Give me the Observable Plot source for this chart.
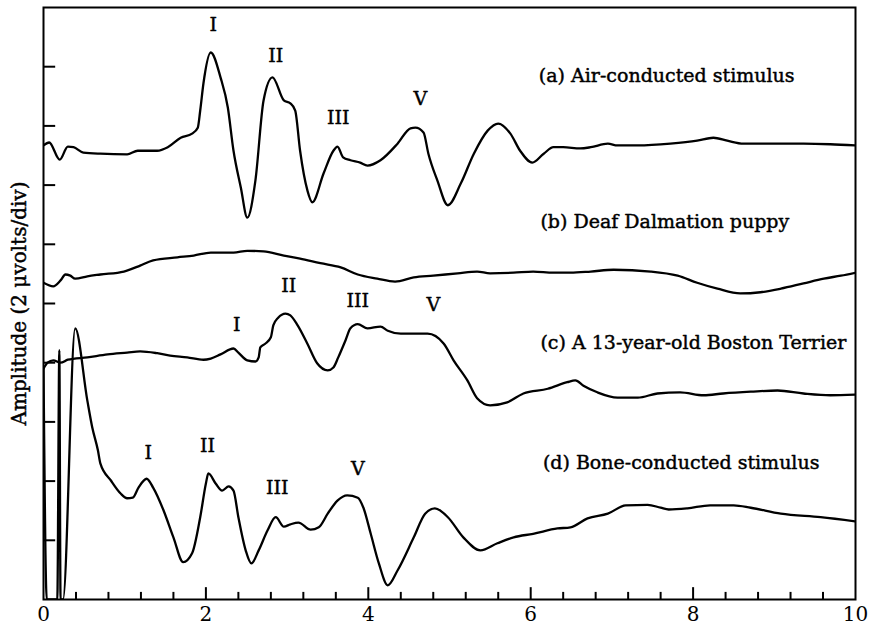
<!DOCTYPE html>
<html><head><meta charset="utf-8">
<script src="https://cdn.jsdelivr.net/npm/d3@7"></script>
<script src="https://cdn.jsdelivr.net/npm/@observablehq/plot@0.6"></script>
<style>body{margin:0;background:#fff}</style>
</head><body><div id="chart"></div>
<script>
// time in ms, amplitude in divisions (2 µV/div) measured from the bottom of the frame
const airT = [0.00,0.07,0.20,0.30,0.37,0.49,0.70,1.03,1.16,1.40,1.53,1.69,1.83,1.90,1.93,1.97,2.06,2.18,2.27,2.34,2.43,2.51,2.61,2.71,2.82,2.96,3.04,3.10,3.16,3.25,3.31,3.45,3.57,3.62,3.69,3.78,3.90,3.99,4.15,4.36,4.52,4.58,4.68,4.74,4.85,4.98,5.14,5.30,5.47,5.60,5.75,5.87,6.02,6.16,6.28,6.40,6.61,6.74,6.95,7.07,7.32,7.72,8.05,8.25,8.42,8.62,8.95,9.36,9.69,10.0];
const airV = [7.67,7.72,7.43,7.65,7.64,7.55,7.53,7.52,7.58,7.58,7.64,7.80,7.87,7.97,8.26,8.72,9.24,8.82,8.31,7.58,6.96,6.45,7.08,8.43,8.82,8.43,8.38,8.26,7.58,6.91,6.71,7.20,7.58,7.65,7.47,7.42,7.38,7.33,7.42,7.70,7.96,7.97,7.89,7.53,7.08,6.66,7.03,7.53,7.92,8.04,7.87,7.58,7.38,7.53,7.64,7.64,7.62,7.64,7.70,7.67,7.67,7.70,7.75,7.80,7.75,7.70,7.70,7.70,7.69,7.67];

const dalT = [0.00,0.12,0.21,0.27,0.33,0.39,0.54,0.70,0.99,1.19,1.35,1.65,1.85,2.06,2.34,2.51,2.71,2.96,3.16,3.41,3.66,3.87,4.11,4.33,4.56,4.80,5.10,5.34,5.50,5.79,6.03,6.28,6.49,6.74,7.02,7.48,7.81,8.05,8.30,8.58,8.83,9.08,9.36,9.61,9.82,10.0];
const dalV = [5.35,5.29,5.39,5.49,5.47,5.42,5.46,5.49,5.54,5.64,5.73,5.78,5.81,5.86,5.86,5.89,5.88,5.81,5.76,5.68,5.61,5.49,5.42,5.37,5.44,5.47,5.51,5.54,5.51,5.52,5.54,5.52,5.52,5.54,5.57,5.54,5.47,5.35,5.25,5.17,5.19,5.25,5.34,5.42,5.47,5.52];

const terT = [0.00,0.05,0.12,0.21,0.30,0.54,0.79,1.03,1.19,1.40,1.56,1.77,1.97,2.06,2.18,2.34,2.40,2.51,2.61,2.65,2.67,2.73,2.80,2.83,2.89,2.98,3.04,3.13,3.25,3.37,3.50,3.57,3.63,3.72,3.78,3.87,3.99,4.15,4.24,4.40,4.56,4.73,4.93,5.05,5.22,5.34,5.50,5.71,5.91,6.21,6.45,6.55,6.65,6.82,7.07,7.32,7.56,7.84,8.13,8.37,8.71,9.04,9.36,9.69,10.0];
const terV = [3.90,4.00,4.04,4.00,4.05,4.09,4.14,4.17,4.19,4.16,4.12,4.09,4.05,4.07,4.14,4.24,4.17,4.04,4.02,4.09,4.26,4.32,4.43,4.63,4.76,4.83,4.80,4.63,4.32,3.99,3.87,3.92,4.09,4.38,4.58,4.65,4.58,4.61,4.54,4.49,4.49,4.49,4.32,4.04,3.70,3.40,3.28,3.33,3.48,3.56,3.67,3.70,3.61,3.50,3.41,3.41,3.48,3.50,3.45,3.48,3.51,3.53,3.48,3.45,3.46];

const boneT = [0.00,0.04,0.17,0.195,0.21,0.24,0.39,0.54,0.60,0.67,0.70,0.83,0.95,1.03,1.10,1.17,1.27,1.35,1.48,1.60,1.72,1.83,1.93,2.00,2.03,2.12,2.20,2.28,2.34,2.40,2.49,2.56,2.65,2.76,2.86,2.96,3.04,3.14,3.29,3.39,3.50,3.62,3.74,3.87,3.94,4.03,4.13,4.24,4.36,4.56,4.70,4.82,4.98,5.17,5.38,5.59,5.79,6.03,6.33,6.49,6.70,6.95,7.17,7.44,7.60,7.70,7.93,8.21,8.50,8.71,9.08,9.57,10.0];
const boneV = [3.90,0,0,4.21,0,0,4.58,3.36,2.91,2.52,2.30,2.01,1.79,1.71,1.72,1.89,2.04,1.89,1.50,1.05,0.63,0.78,1.39,1.96,2.13,1.96,1.84,1.91,1.84,1.39,0.83,0.61,0.83,1.17,1.39,1.23,1.27,1.30,1.18,1.22,1.45,1.67,1.76,1.72,1.55,1.11,0.61,0.24,0.49,1.05,1.45,1.54,1.39,1.05,0.83,0.95,1.05,1.11,1.20,1.22,1.37,1.45,1.59,1.60,1.55,1.52,1.54,1.59,1.59,1.55,1.45,1.39,1.32];

const xMajor = [0, 2, 4, 6, 8, 10];
const xMinor = [0.4,0.8,1.2,1.6,2.4,2.8,3.2,3.6,4.4,4.8,5.2,5.6,6.4,6.8,7.2,7.6,8.4,8.8,9.2,9.6];
const yTicks = [1, 2, 3, 4, 5, 6, 7, 8, 9];

const curveLabels = ["(a) Air-conducted stimulus", "(b) Deaf Dalmation puppy", "(c) A 13-year-old Boston Terrier", "(d) Bone-conducted stimulus"];
const curveLabelX = [6.10, 6.12, 6.12, 6.15];
const curveLabelY = [8.85, 6.37, 4.34, 2.30];

const waveNames = ["I","II","III","V", "I","II","III","V", "I","II","III","V"];
const waveX = [2.09, 2.86, 3.63, 4.64, 2.38, 3.02, 3.87, 4.80, 1.29, 2.02, 2.88, 3.87];
const waveY = [9.70, 9.19, 8.13, 8.46, 4.63, 5.30, 5.05, 4.98, 2.48, 2.60, 1.88, 2.21];

const yLabel = "Amplitude (2 μvolts/div)";

function series(name, t, v) { return t.map((x, i) => ({curve: name, t: x, v: v[i]})); }
const traces = [
  ...series("a", airT, airV),
  ...series("b", dalT, dalV),
  ...series("c", terT, terV),
  ...series("d", boneT, boneV)
];

const font = "'DejaVu Serif', serif";
const ink = {fill: "#000", stroke: "#000", strokeWidth: 0.45};
const chart = Plot.plot({
  width: 869, height: 627,
  marginTop: 7, marginRight: 14, marginBottom: 28, marginLeft: 43,
  x: {domain: [0, 10]},
  y: {domain: [0, 10], axis: null},
  style: {fontFamily: font, background: "#fff", color: "#000"},
  marks: [
    Plot.axisX(xMajor, {tickSize: 0, tickPadding: 7, fontSize: 20, label: null, ...ink}),
    Plot.line(traces, {x: "t", y: "v", z: "curve", stroke: "#000", strokeWidth: 2.3, curve: "monotone-x", clip: true}),
    Plot.ruleX(xMajor.slice(1, -1), {x: d => d, y1: 0, y2: 0.2, stroke: "#000", strokeWidth: 2}),
    Plot.ruleX(xMinor, {x: d => d, y1: 0, y2: 0.12, stroke: "#000", strokeWidth: 2}),
    Plot.ruleY(yTicks, {y: d => d, x1: 0, x2: 0.15, stroke: "#000", strokeWidth: 2}),
    Plot.frame({stroke: "#000", strokeWidth: 2}),
    Plot.text(curveLabels, {x: (d, i) => curveLabelX[i], y: (d, i) => curveLabelY[i], textAnchor: "start", fontSize: 19, ...ink}),
    Plot.text(waveNames, {x: (d, i) => waveX[i], y: (d, i) => waveY[i], textAnchor: "middle", fontSize: 19, ...ink}),
    Plot.text([yLabel], {frameAnchor: "left", rotate: -90, dx: -18, lineAnchor: "bottom", textAnchor: "middle", fontSize: 20, ...ink})
  ]
});
document.getElementById("chart").appendChild(chart);
</script>
</body></html>
